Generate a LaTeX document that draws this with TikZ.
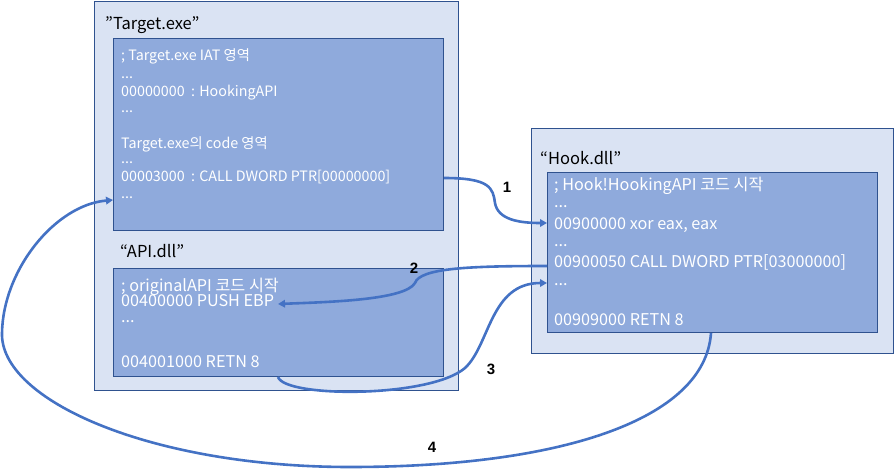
\documentclass[tikz,border=0pt]{standalone}
\usepackage{fontspec}
\setmainfont{Liberation Sans}
\newfontfamily\kr{Noto Sans CJK KR}
\usetikzlibrary{arrows.meta}
\definecolor{outerfill}{HTML}{DAE3F3}
\definecolor{innerfill}{HTML}{8FAADC}
\definecolor{boxline}{HTML}{2F528F}
\definecolor{arrowblue}{HTML}{4472C4}
\tikzset{
  outerbox/.style={draw=boxline, fill=outerfill, line width=1pt, anchor=north west, inner sep=0pt},
  innerbox/.style={draw=boxline, fill=innerfill, line width=1pt, anchor=north west, inner sep=0pt},
  ln/.style={anchor=base west, inner sep=0pt, text=white, font=\kr\fontsize{14.3}{16}\selectfont},
  lnb/.style={anchor=base west, inner sep=0pt, text=white, font=\kr\fontsize{16.2}{18}\selectfont},
  title/.style={anchor=base west, inner sep=0pt, font=\kr\fontsize{16.5}{19}\selectfont},
  num/.style={inner sep=0pt, font=\bfseries\fontsize{15}{16}\selectfont},
  conn/.style={draw=arrowblue, line width=2.6pt, -{Triangle[length=7pt,width=7.5pt]}},
}
\begin{document}
\begin{tikzpicture}[x=1pt,y=-1pt]
\useasboundingbox (0,0) rectangle (894,470);
% boxes
\node[outerbox, minimum width=364pt, minimum height=389pt] (tgt) at (94,1) {};
\node[innerbox, minimum width=330pt, minimum height=192pt] (tiat) at (113,38) {};
\node[innerbox, minimum width=330pt, minimum height=108pt] (tapi) at (113,268) {};
\node[outerbox, minimum width=362pt, minimum height=225pt] (hook) at (531,128) {};
\node[innerbox, minimum width=330pt, minimum height=160pt] (hin) at (547,172) {};
% titles
\node[title] (ttgt) at (105,30) {”Target.exe”};
\node[title] (tapil) at (120,258) {“API.dll”};
\node[title] (thook) at (540,165) {“Hook.dll”};
% Target.exe text
\node[ln] (t1) at (121,61) {; Target.exe IAT 영역};
\node[ln] (t2) at (121,79) {...};
\node[ln] (t3) at (121,97) {00000000\ \ : HookingAPI};
\node[ln] (t4) at (121,113) {...};
\node[ln] (t6) at (121,149) {Target.exe의 code 영역};
\node[ln] (t7) at (121,164) {...};
\node[ln] (t8) at (121,182) {00003000\ \ : CALL DWORD PTR[00000000]};
\node[ln] (t9) at (121,199) {...};
% API.dll text
\node[lnb] (a1) at (121,291) {; originalAPI 코드 시작};
\node[lnb] (a2) at (121,307) {00400000 PUSH EBP};
\node[lnb] (a3) at (121,323) {...};
\node[lnb] (a5) at (121,367) {004001000 RETN 8};
% Hook.dll text
\node[lnb] (h1) at (554,191) {; Hook!HookingAPI 코드 시작};
\node[lnb] (h2) at (554,208) {...};
\node[lnb] (h3) at (554,230) {00900000 xor eax, eax};
\node[lnb] (h4) at (554,247) {...};
\node[lnb] (h5) at (554,268) {00900050 CALL DWORD PTR[03000000]};
\node[lnb] (h6) at (554,286) {...};
\node[lnb] (h8) at (554,325) {00909000 RETN 8};
% connectors
\draw[conn] (tiat.east |- 0,178) .. controls (490,178) and (493,188) .. (495,203)
  .. controls (498,220) and (520,223) .. (hin.west |- 0,223);
\draw[conn] (hin.west |- 0,266) .. controls (470,266) and (420,268) .. (415,283)
  .. controls (405,300) and (330,302) .. (278,304);
\draw[conn] (tapi.south -| 278,0) .. controls (285,398) and (430,398) .. (465,368)
  .. controls (490,345) and (490,283) .. (hin.west |- 0,283);
\draw[conn] (hin.south -| 711,0) .. controls (705,420) and (560,467) .. (350,467)
  .. controls (150,467) and (0,400) .. (2,333)
  .. controls (3,270) and (55,205) .. (tiat.west |- 0,200);
% numbers
\node[num] (n1) at (507,187) {1};
\node[num] (n2) at (414,268) {2};
\node[num] (n3) at (491,369) {3};
\node[num] (n4) at (432,447) {4};
\end{tikzpicture}
\end{document}
